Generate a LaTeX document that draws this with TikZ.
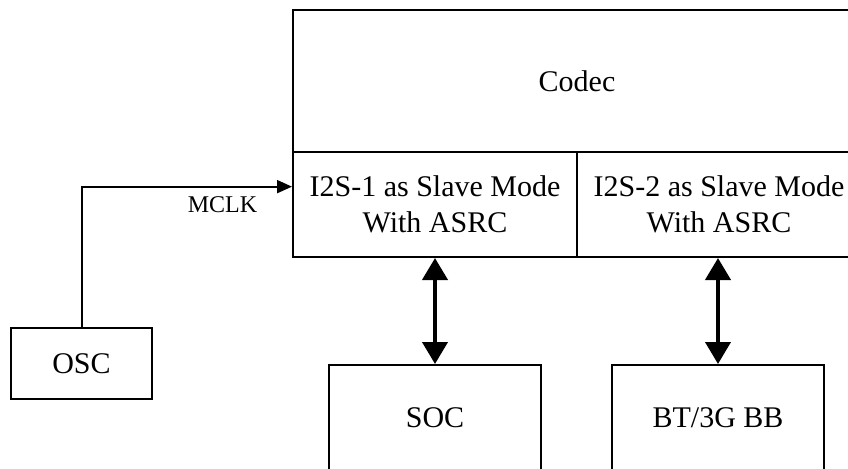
\documentclass[tikz,border=0pt]{standalone}
\usepackage{fontspec}
\setmainfont{Liberation Serif}
\usetikzlibrary{positioning,calc,arrows.meta}

\tikzset{
	blockbox/.style={draw, rectangle, line width=1pt, inner sep=0pt, align=center, font=\fontsize{15}{18}\selectfont},
	clkline/.style={line width=1pt, -{Triangle[length=7.5pt,width=6.5pt]}},
	busline/.style={line width=2pt, {Triangle[length=11pt,width=12.5pt]}-{Triangle[length=11pt,width=12.5pt]}}
}

\begin{document}
\begin{tikzpicture}[x=0.5pt, y=-0.5pt]
	\useasboundingbox (0,0) rectangle (848,468);
	\clip (0,0) rectangle (848,468);
	\node [blockbox, minimum width=284pt, minimum height=71pt] (CODEC) at (577,81) {Codec};
	\node [blockbox, minimum width=142pt, minimum height=52.5pt] (I2S1) at (435,204.5) {I2S-1 as Slave Mode\\With ASRC};
	\node [blockbox, minimum width=142pt, minimum height=52.5pt] (I2S2) at (719,204.5) {I2S-2 as Slave Mode\\With ASRC};
	\node [blockbox, minimum width=70.5pt, minimum height=35.5pt] (OSC) at (81.5,363.5) {OSC};
	\node [blockbox, minimum width=106pt, minimum height=53pt] (SOC) at (435,418) {SOC};
	\node [blockbox, minimum width=106pt, minimum height=53pt] (BB) at (718,418) {BT/3G BB};
	\coordinate (clkin) at ($(I2S1.north west)!0.333!(I2S1.south west)$);
	\draw [clkline] (OSC.north) |- (clkin) node[pos=0.835, below, inner sep=3pt, yshift=-1.5pt, font=\fontsize{12}{14}\selectfont]{MCLK};
	\draw [busline] (I2S1.south) -- (SOC.north);
	\draw [busline] (I2S2.south -| BB.north) -- (BB.north);
\end{tikzpicture}
\end{document}
